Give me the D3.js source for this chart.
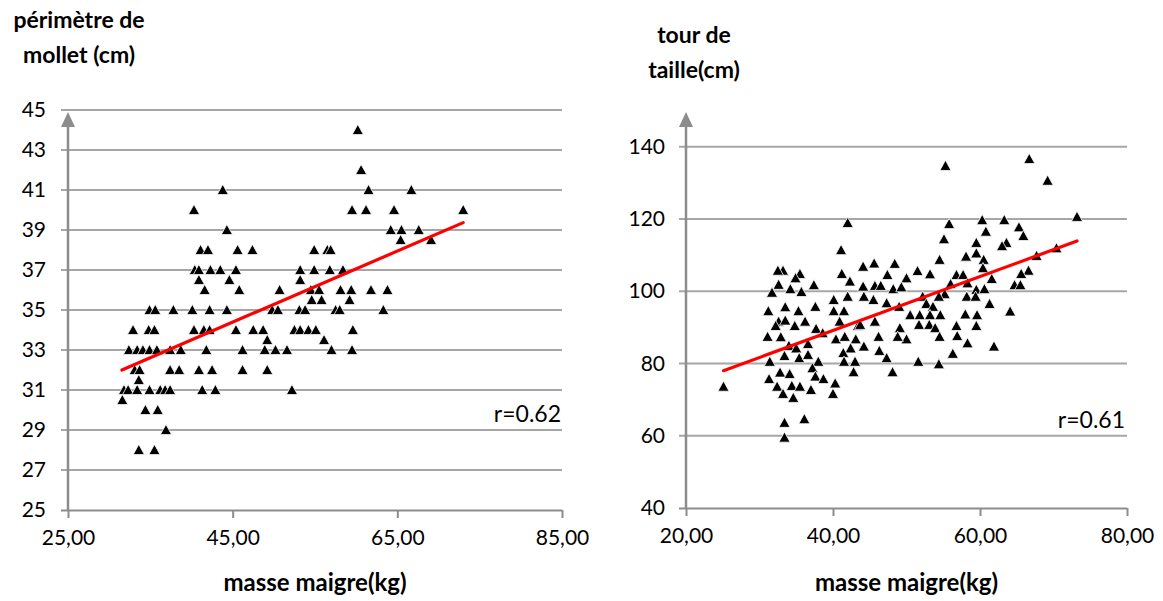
<!DOCTYPE html>
<html><head><meta charset="utf-8">
<script src="https://cdn.jsdelivr.net/npm/d3@7"></script>
<style>
html,body{margin:0;padding:0;background:#fff;}
svg{display:block;font-family:Lato,"Open Sans",sans-serif;}
</style></head>
<body><svg id="c" width="1163" height="601"></svg>
<script>
// ---------- LEFT PANEL DATA ----------
const leftXTicks = [25, 45, 65, 85];
const leftXTickLabels = ["25,00", "45,00", "65,00", "85,00"];
const leftYTicks = [25, 27, 29, 31, 33, 35, 37, 39, 41, 43, 45];
const leftMass = [60.2,60.6,43.8,61.5,66.7, 40.3,59.5,61.2,64.6,73.0, 44.3,64.2,65.5,67.6, 65.4,69.1,
  41.1,42.0,45.6,47.4,54.9,56.5,56.9, 40.4,40.9,42.3,43.5,45.4,53.2,54.9,56.8,58.4, 40.9,44.6,53.2,
  41.6,45.8,50.7,54.5,55.5,58.1,59.4,61.8,63.8, 54.6,55.8,59.2,
  34.9,35.6,37.8,40.1,42.2,44.3,49.8,50.5,53.1,53.8,57.5,58.0,63.3,
  32.9,34.8,35.5,40.3,41.5,42.2,45.4,47.5,48.7,52.5,53.2,54.2,55.1,59.6, 49.2,56.1,
  32.4,33.4,34.1,34.9,35.8,37.4,38.7,41.8,46.2,48.9,50.2,51.6,57.0,59.5,
  33.1,33.7,37.4,38.5,40.9,42.5,46.2,49.2, 33.6,
  31.8,32.3,33.4,34.9,36.2,36.8,37.4,41.3,42.9,52.2, 31.6, 34.4,35.9, 36.9, 33.6,35.5];
const leftCalf = [44,42,41,41,41, 40,40,40,40,40, 39,39,39,39, 38.5,38.5,
  38,38,38,38,38,38,38, 37,37,37,37,37,37,37,37,37, 36.5,36.5,36.5,
  36,36,36,36,36,36,36,36,36, 35.5,35.5,35.5,
  35,35,35,35,35,35,35,35,35,35,35,35,35,
  34,34,34,34,34,34,34,34,34,34,34,34,34,34, 33.5,33.5,
  33,33,33,33,33,33,33,33,33,33,33,33,33,33,
  32,32,32,32,32,32,32,32, 31.5,
  31,31,31,31,31,31,31,31,31,31, 30.5, 30,30, 29, 28,28];
const leftTrendMass = [31.55, 73.0];
const leftTrendCalf = [32.0, 39.37];
const leftR = "r=0.62";

// ---------- RIGHT PANEL DATA ----------
const rightXTicks = [20, 40, 60, 80];
const rightXTickLabels = ["20,00", "40,00", "60,00", "80,00"];
const rightYTicks = [40, 60, 80, 100, 120, 140];
const rightMass = [41.1,33.2,32.5,35.5,34.9,44.1,41.2,32.6,34.2,35.7,37.4,31.7,42.3,44.1,44.2,40.1,42.0,
  31.2,33.5,35.3,37.6,40.1,41.5,32.6,33.5,36.2,34.8,32.2,40.9,43.4,31.1,32.9,37.7,40.4,41.6,43.1,
  34.0,35.0,36.6,38.6,42.4,44.2,41.4,33.4,35.4,36.6,31.4,38.0,41.5,43.0,32.8,34.1,37.2,42.8,
  31.3,37.6,38.7,32.4,34.4,35.5,37.0,40.3,33.2,34.6,40.0,25.1,33.4,36.1,33.4,
  55.8,60.3,63.3,60.8,55.1,59.5,63.6,59.5,58.1,60.5,60.4,54.5,45.6,48.4,47.4,50.0,51.5,53.2,56.8,57.7,61.6,
  45.7,46.5,48.2,49.3,56.0,55.2,58.3,59.5,60.6,45.5,52.2,54.4,58.2,59.4,61.3,47.3,49.0,52.7,53.6,64.1,
  50.5,51.8,53.2,54.6,58.0,59.6,45.7,43.7,51.7,53.1,53.9,56.8,59.5,49.1,46.2,50.0,48.8,54.5,56.9,58.3,
  46.3,61.9,47.3,56.3,51.6,54.4,48.1,
  66.7,69.2,73.2,65.3,65.9,63.0,70.4,67.7,66.6,65.6,64.7,65.5, 42.0,55.3];
const rightWaist = [111.4,105.7,105.7,104.8,103.6,106.8,104.8,101.8,100.6,99.8,101.7,99.6,102.7,101.3,98.5,97.6,98.5,
  94.5,95.6,94.5,95.7,94.5,94.5,91.6,91.9,91.6,90.4,90.4,91.6,90.4,87.4,87.3,89.6,86.7,87.4,86.7,
  84.9,84.2,85.4,88.4,84.2,84.7,82.9,82.1,81.5,82.4,80.5,80.5,80.5,80.5,77.5,77.1,78.7,77.6,
  75.7,76.4,75.7,73.6,73.8,73.6,72.7,74.5,71.6,70.5,71.6,73.6,63.6,64.6,59.5,
  118.6,119.7,119.7,116.5,114.4,113.4,113.4,110.5,109.6,108.7,106.4,108.7,107.7,107.6,104.5,103.6,105.6,104.7,104.5,104.5,103.4,
  101.5,101.5,100.6,101.1,102.0,99.2,102.2,100.4,100.6,97.6,98.5,98.5,98.5,98.5,96.5,96.7,95.7,96.5,95.7,94.4,
  93.4,93.4,93.4,93.4,93.6,93.4,91.6,90.7,90.7,90.7,89.8,90.4,90.4,89.8,87.4,86.7,87.4,87.4,87.6,85.6,
  83.5,84.7,81.5,82.7,80.5,79.8,77.6,
  136.6,130.6,120.6,117.7,115.3,112.5,111.9,109.8,105.7,104.8,101.7,101.7, 118.9,134.7];
const rightTrendMass = [25.1, 73.2];
const rightTrendWaist = [78.0, 113.9];
const rightR = "r=0.61";

// ---------- DRAW ----------
const svg = d3.select("#c");
const GRID = "#a6a6a6", AXIS = "#8c8c8c";
const tri = "M0,-5.6L5.6,4.6L-5.6,4.6Z";

function panel(cfg) {
  const x = d3.scaleLinear().domain(cfg.xDomain).range(cfg.xRange);
  const y = d3.scaleLinear().domain(cfg.yDomain).range(cfg.yRange);
  const g = svg.append("g");
  g.selectAll(".grid").data(cfg.yTicks.slice(1)).join("line")
    .attr("x1", cfg.xRange[0] - 7).attr("x2", cfg.xRange[1])
    .attr("y1", d => y(d)).attr("y2", d => y(d))
    .attr("stroke", GRID).attr("stroke-width", 2);
  const xa = g.append("g").attr("transform", `translate(0,${cfg.yRange[0]})`)
    .call(d3.axisBottom(x).tickValues(cfg.xTicks).tickSize(8).tickPadding(12)
      .tickFormat((d, i) => cfg.xTickLabels[i]));
  xa.select(".domain").attr("stroke", AXIS).attr("stroke-width", 2)
    .attr("d", `M${cfg.xRange[0]-7},0.5H${cfg.xRange[1]}`);
  xa.selectAll(".tick line").attr("stroke", AXIS).attr("stroke-width", 2);
  xa.selectAll(".tick text").attr("font-size", 21).attr("fill", "#000").attr("font-family", "Lato");
  const ya = g.append("g").attr("transform", `translate(${cfg.xRange[0]},0)`)
    .call(d3.axisLeft(y).tickValues(cfg.yTicks).tickSize(0).tickPadding(cfg.yPad));
  ya.select(".domain").remove();
  ya.selectAll(".tick text").attr("font-size", 21).attr("fill", "#000").attr("font-family", "Lato");
  g.append("line").attr("x1", cfg.xRange[0]).attr("x2", cfg.xRange[0])
    .attr("y1", cfg.yRange[0]).attr("y2", cfg.arrowTip + 12)
    .attr("stroke", AXIS).attr("stroke-width", 2.5);
  g.append("path")
    .attr("d", `M${cfg.xRange[0]},${cfg.arrowTip}L${cfg.xRange[0]+7},${cfg.arrowTip+15}L${cfg.xRange[0]-7},${cfg.arrowTip+15}Z`)
    .attr("fill", AXIS);
  g.selectAll(".pt").data(cfg.xs.map((v, i) => [v, cfg.ys[i]])).join("path")
    .attr("d", tri).attr("transform", d => `translate(${x(d[0])},${y(d[1])})`)
    .attr("fill", "#000").attr("stroke", "#fff").attr("stroke-width", 0.8);
  g.append("line")
    .attr("x1", x(cfg.trendX[0])).attr("y1", y(cfg.trendY[0]))
    .attr("x2", x(cfg.trendX[1])).attr("y2", y(cfg.trendY[1]))
    .attr("stroke", "#ff0000").attr("stroke-width", 3.2).attr("stroke-linecap", "round");
  g.append("text").attr("x", cfg.rPos[0]).attr("y", cfg.rPos[1]).attr("text-anchor", "end")
    .attr("font-size", 23).attr("font-family", "Lato").text(cfg.r);
  const t = g.append("text").attr("font-weight", "bold").attr("font-size", 23)
    .attr("font-family", "Lato").attr("text-anchor", "middle");
  cfg.yTitle.forEach((s, i) => t.append("tspan").attr("x", cfg.yTitlePos[0])
    .attr("y", cfg.yTitlePos[1] + i * 35).text(s));
  g.append("text").attr("font-weight", "bold").attr("font-size", 24).attr("font-family", "Lato")
    .attr("text-anchor", "middle").attr("x", (cfg.xRange[0] + cfg.xRange[1]) / 2).attr("y", 591)
    .text("masse maigre(kg)");
}

panel({
  xDomain: [25, 85], xRange: [68, 562], yDomain: [25, 45], yRange: [510, 110],
  xTicks: leftXTicks, xTickLabels: leftXTickLabels, yTicks: leftYTicks, yPad: 22,
  xs: leftMass, ys: leftCalf, trendX: leftTrendMass, trendY: leftTrendCalf,
  r: leftR, rPos: [561, 422], arrowTip: 112,
  yTitle: ["périmètre de", "mollet (cm)"], yTitlePos: [79, 28]
});
panel({
  xDomain: [20, 80], xRange: [686, 1127], yDomain: [40, 140], yRange: [508, 146.7],
  xTicks: rightXTicks, xTickLabels: rightXTickLabels, yTicks: rightYTicks, yPad: 21,
  xs: rightMass, ys: rightWaist, trendX: rightTrendMass, trendY: rightTrendWaist,
  r: rightR, rPos: [1125, 428], arrowTip: 112,
  yTitle: ["tour de", "taille(cm)"], yTitlePos: [694, 43]
});
</script></body></html>
